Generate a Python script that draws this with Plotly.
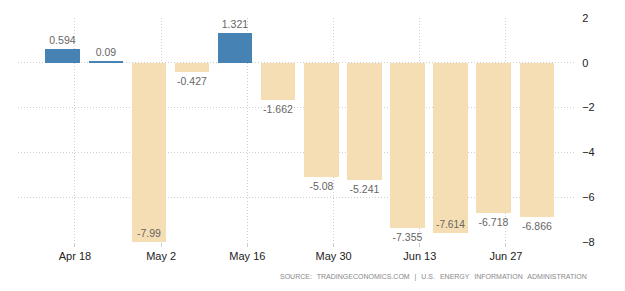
import plotly.graph_objects as go

dates = ["2021-04-16", "2021-04-23", "2021-04-30", "2021-05-07", "2021-05-14", "2021-05-21",
         "2021-05-28", "2021-06-04", "2021-06-11", "2021-06-18", "2021-06-25", "2021-07-02"]
values = [0.594, 0.09, -7.99, -0.427, 1.321, -1.662, -5.08, -5.241, -7.355, -7.614, -6.718, -6.866]
labels = ["0.594", "0.09", "-7.99", "-0.427", "1.321", "-1.662", "-5.08", "-5.241", "-7.355", "-7.614", "-6.718", "-6.866"]
tick_dates = ["2021-04-18", "2021-05-02", "2021-05-16", "2021-05-30", "2021-06-13", "2021-06-27"]
tick_text = ["Apr 18", "May 2", "May 16", "May 30", "Jun 13", "Jun 27"]
y_ticks = [2, 0, -2, -4, -6, -8]
source_text = "SOURCE: TRADINGECONOMICS.COM | U.S. ENERGY INFORMATION ADMINISTRATION"

POS = "#4682B4"
NEG = "#F5DEB3"
colors = [POS if v >= 0 else NEG for v in values]
textpos = ["inside" if v < -7.5 else "outside" for v in values]

fig = go.Figure(go.Bar(
    x=dates, y=values,
    width=5.6 * 86400000,
    marker=dict(color=colors, line=dict(width=0)),
    text=labels,
    textposition=textpos,
    insidetextanchor="end",
    textangle=0,
    cliponaxis=False,
    textfont=dict(color="#666666", size=10.5, family="Liberation Sans, Arial, sans-serif"),
    insidetextfont=dict(color="#666666", size=10.5),
    outsidetextfont=dict(color="#666666", size=10.5),
))

fig.update_layout(
    width=625, height=291,
    margin=dict(l=18, r=50, t=16, b=49),
    paper_bgcolor="white", plot_bgcolor="white",
    showlegend=False,
    bargap=0,
    font=dict(family="Liberation Sans, Arial, sans-serif", size=11, color="#333333"),
    xaxis=dict(
        type="date",
        range=["2021-04-08 18:00", "2021-07-08 05:00"],
        tickvals=tick_dates, ticktext=tick_text,
        showgrid=True, gridcolor="#cfcfcf", griddash="1px,2px", gridwidth=1,
        ticks="outside", ticklen=4, tickcolor="#cccccc",
        showline=False, zeroline=False,
        tickfont=dict(size=11, color="#222222"),
    ),
    yaxis=dict(
        side="right",
        range=[-8, 2],
        tickvals=y_ticks,
        showgrid=True, gridcolor="#cfcfcf", griddash="1px,2px", gridwidth=1,
        zeroline=False, showline=False,
        ticks="outside", ticklen=4, tickcolor="rgba(0,0,0,0)",
        tickfont=dict(size=11, color="#222222"),
    ),
    annotations=[dict(
        text='<span style="letter-spacing:0px;word-spacing:3px">' + source_text + '</span>',
        xref="paper", yref="paper", x=1.025, y=-0.155,
        xanchor="right", yanchor="middle", showarrow=False,
        font=dict(size=7, color="#888888", family="Liberation Sans, Arial, sans-serif"),
    )],
)

fig.write_html("out.html")
